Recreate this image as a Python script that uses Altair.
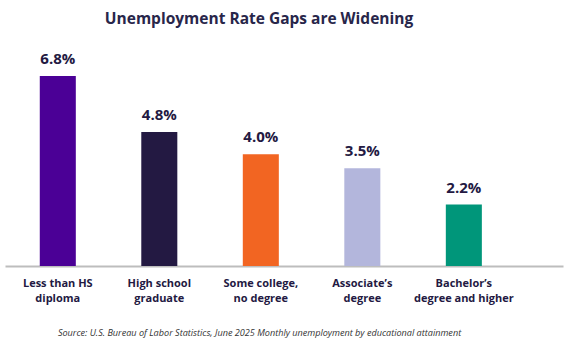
import altair as alt
import pandas as pd

categories = ["Less than HS\ndiploma", "High school\ngraduate", "Some college,\nno degree",
              "Associate’s\ndegree", "Bachelor’s\ndegree and higher"]
values = [6.8, 4.8, 4.0, 3.5, 2.2]
labels = ["6.8%", "4.8%", "4.0%", "3.5%", "2.2%"]
colors = ["#4B0096", "#231942", "#F26522", "#B3B6DC", "#00967A"]

df = pd.DataFrame({"cat": categories, "val": values, "lab": labels})

FONT = "Open Sans"
NAVY = "#231942"

x = alt.X("cat:N", sort=categories,
          scale=alt.Scale(paddingInner=0.645, paddingOuter=0.571, align=0.30),
          axis=alt.Axis(title="Source: U.S. Bureau of Labor Statistics, June 2025 Monthly unemployment by educational attainment",
                        titleFont=FONT, titleFontStyle="italic", titleFontWeight="normal",
                        titleFontSize=9.1, titleColor="#333333", titleX=254, titleY=62,
                        labelExpr="split(datum.label, '\\n')", labelAngle=0,
                        labelFont=FONT, labelFontWeight="bold", labelFontSize=11,
                        labelColor=NAVY, labelPadding=11, labelLineHeight=15,
                        ticks=False, domainColor="#BDBDBD", domainWidth=2))
y = alt.Y("val:Q", scale=alt.Scale(domain=[0, 6.8], nice=False), axis=None)

bars = alt.Chart(df).mark_bar().encode(
    x=x, y=y,
    color=alt.Color("cat:N", sort=categories,
                    scale=alt.Scale(domain=categories, range=colors), legend=None))

text = alt.Chart(df).mark_text(font=FONT, fontWeight="bold", fontSize=15, color=NAVY,
                               baseline="bottom", dy=-9).encode(
    x=alt.X("cat:N", sort=categories), y="val:Q", text="lab:N")

chart = (bars + text).properties(
    width=558, height=190,
    padding={"left": 5, "top": 76, "right": 14, "bottom": 77},
    autosize=alt.AutoSizeParams(type="none"),
    title=alt.TitleParams("Unemployment Rate Gaps are Widening", font=FONT, fontSize=15.5,
                          fontWeight="bold", color="#28264A", anchor="middle", dx=-25,
                          frame="group", offset=25),
).configure_view(stroke=None)

chart.save("out.html", embed_options={"renderer": "svg", "actions": False})
